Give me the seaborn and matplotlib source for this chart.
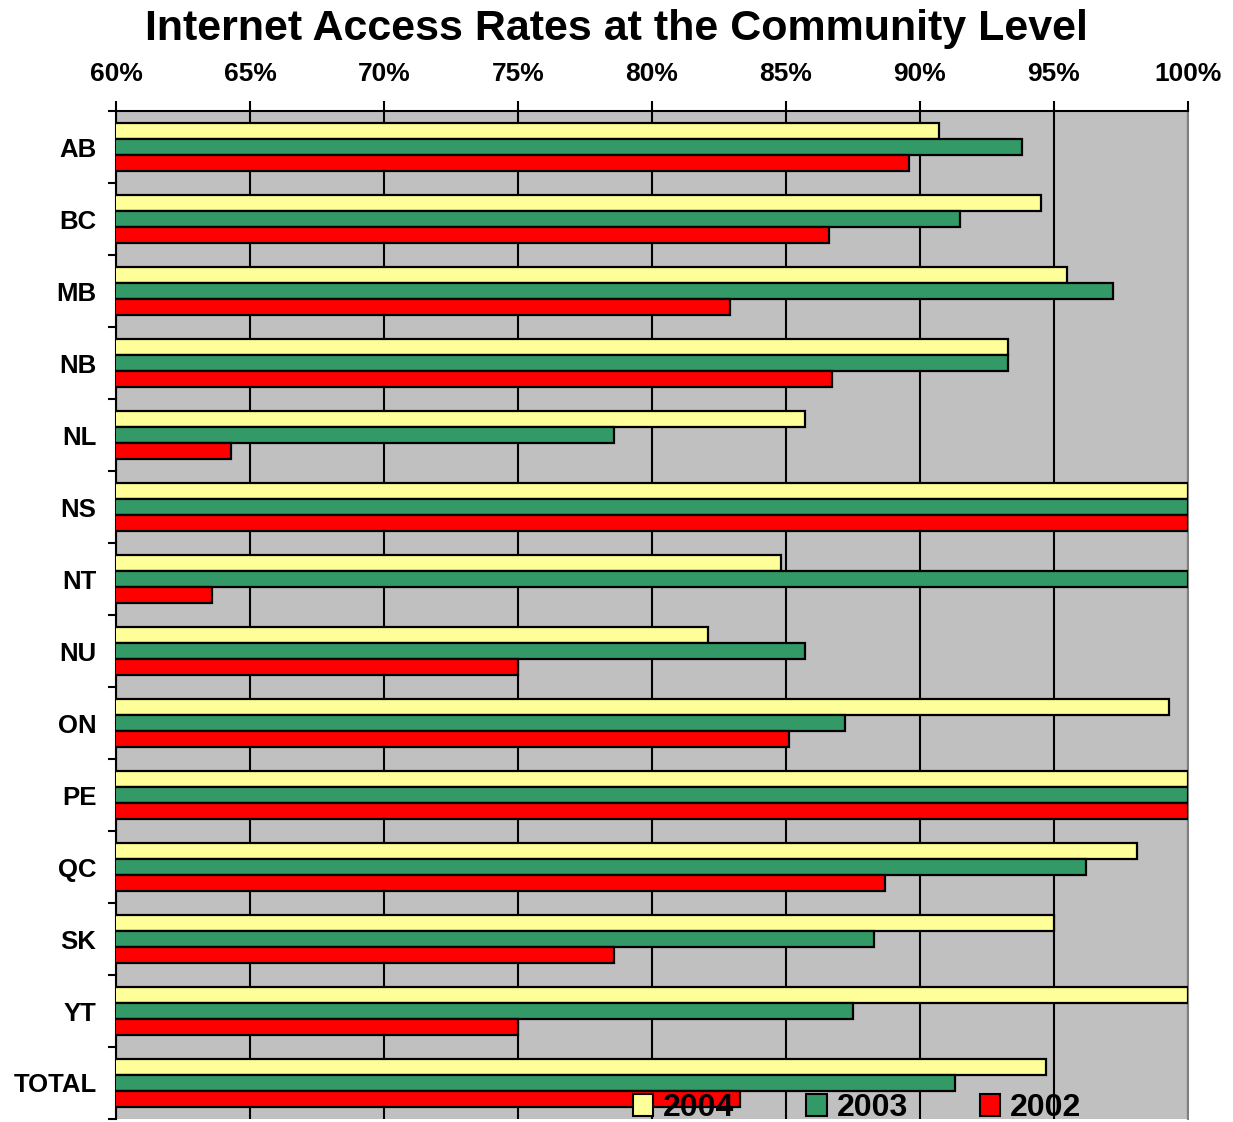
import matplotlib
matplotlib.use("Agg")
import matplotlib.pyplot as plt
from matplotlib.patches import Patch
import seaborn as sns
import pandas as pd
import numpy as np

categories = ["AB", "BC", "MB", "NB", "NL", "NS", "NT", "NU", "ON", "PE", "QC", "SK", "YT", "TOTAL"]
years = ["2004", "2003", "2002"]
v2004 = [90.7, 94.5, 95.5, 93.3, 85.7, 100, 84.8, 82.1, 99.3, 100, 98.1, 95.0, 100, 94.7]
v2003 = [93.8, 91.5, 97.2, 93.3, 78.6, 100, 100, 85.7, 87.2, 100, 96.2, 88.3, 87.5, 91.3]
v2002 = [89.6, 86.6, 82.9, 86.7, 64.3, 100, 63.6, 75.0, 85.1, 100, 88.7, 78.6, 75.0, 83.3]
xticks = [60, 65, 70, 75, 80, 85, 90, 95, 100]
colors = ["#FFFF99", "#339966", "#FF0000"]
title = "Internet Access Rates at the Community Level"

rows = []
for yr, vals in zip(years, [v2004, v2003, v2002]):
    for c, v in zip(categories, vals):
        rows.append({"cat": c, "val": v, "year": yr})
df = pd.DataFrame(rows)

sns.set_style("white")
plt.rcParams["font.family"] = ["Liberation Sans", "DejaVu Sans"]
plt.rcParams["font.weight"] = "bold"
plt.rcParams["text.color"] = "black"
plt.rcParams["xtick.color"] = "black"
plt.rcParams["ytick.color"] = "black"
plt.rcParams["axes.labelcolor"] = "black"

fig = plt.figure(figsize=(12.33, 11.22), dpi=100)
ax = fig.add_axes([116/1233, 1 - 1119/1122, (1188-116)/1233, (1119-111)/1122])
ax.set_facecolor("#C0C0C0")

sns.barplot(data=df, y="cat", x="val", hue="year", hue_order=years, order=categories,
            palette=colors, width=0.667, gap=0, edgecolor="black", linewidth=1.6,
            orient="h", ax=ax, legend=False, saturation=1, zorder=3)

ax.set_xlim(60, 100)
ax.set_ylim(len(categories) - 0.5, -0.5)
ax.set_xticks(xticks)
ax.set_xticklabels([f"{t}%" for t in xticks], fontsize=19, fontweight="bold", color="black")
ax.xaxis.tick_top()
ax.xaxis.grid(True, color="black", linewidth=1.5, zorder=1)
ax.set_axisbelow(True)
ax.tick_params(axis="x", which="major", length=7, width=1.5, direction="out", pad=11, color="black")

ax.set_yticks(range(len(categories)))
ax.set_yticklabels(categories, fontsize=18.5, fontweight="bold", color="black")
ax.set_yticks(np.arange(-0.5, len(categories), 1.0), minor=True)
ax.tick_params(axis="y", which="major", length=0, pad=14)
ax.tick_params(axis="y", which="minor", length=6, width=1.5, direction="out", color="black", left=True)
ax.set_xlabel("")
ax.set_ylabel("")

for s in ["top", "left"]:
    ax.spines[s].set_visible(True)
    ax.spines[s].set_color("black")
    ax.spines[s].set_linewidth(1.5)
ax.spines["right"].set_visible(True)
ax.spines["right"].set_color("#808080")
ax.spines["right"].set_linewidth(1.5)
ax.spines["bottom"].set_visible(False)

fig.text(0.5, 1 - 29/1122, title, ha="center", va="center", fontsize=31, fontweight="bold", color="black")

handles = [Patch(facecolor=c, edgecolor="black", linewidth=1.5, label=y) for c, y in zip(colors, years)]
fig.legend(handles=handles, loc="center", bbox_to_anchor=(857/1233, 1 - 1108/1122), ncol=3,
           frameon=False, prop={"weight": "bold", "size": 23},
           handlelength=0.65, handleheight=0.7, handletextpad=0.3, columnspacing=2.25,
           borderaxespad=0, labelcolor="black")

fig.savefig("out.png", dpi=100)
